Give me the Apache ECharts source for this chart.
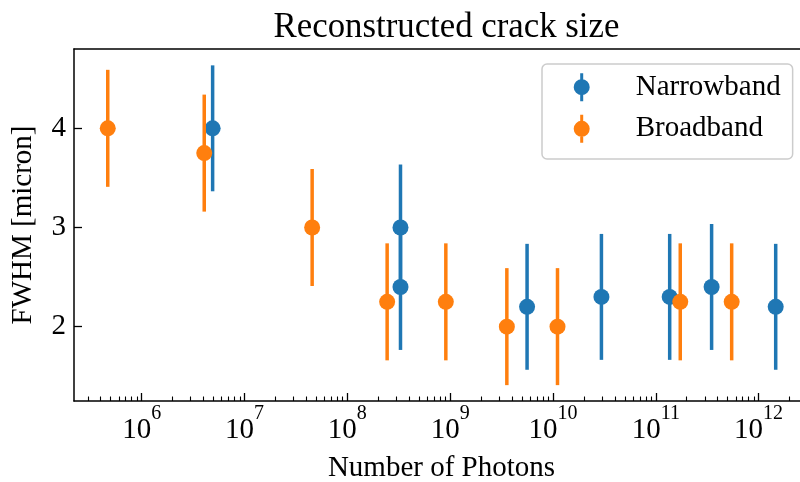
<!DOCTYPE html>
<html>
<head>
<meta charset="utf-8">
<script src="https://cdn.jsdelivr.net/npm/echarts@6/dist/echarts.min.js"></script>
<style>html,body{margin:0;padding:0;background:#fff}#c{width:800px;height:482px}</style>
</head>
<body>
<div id="c"></div>
<script>
// ---- data ----
const narrowX = [4.9e6, 3.29e8, 3.29e8, 5.6e9, 2.96e10, 1.365e11, 3.49e11, 1.466e12];
const narrowY = [4.0, 3.0, 2.4, 2.2, 2.3, 2.3, 2.4, 2.2];
const narrowErr = [0.635, 0.635, 0.635, 0.635, 0.635, 0.635, 0.635, 0.635];
const broadX = [4.68e5, 4.06e6, 4.55e7, 2.44e8, 9.08e8, 3.56e9, 1.107e10, 1.73e11, 5.47e11];
const broadY = [4.0, 3.75, 3.0, 2.25, 2.25, 2.0, 2.0, 2.25, 2.25];
const broadErr = [0.59, 0.59, 0.59, 0.59, 0.59, 0.59, 0.59, 0.59, 0.59];
const xMajorTicks = [1e6, 1e7, 1e8, 1e9, 1e10, 1e11, 1e12];
const yTicks = [2, 3, 4];
const seriesNames = ['Narrowband', 'Broadband'];

const xMinorTicks = [];
for (let k = 5; k <= 12; k++) for (let m = 2; m <= 9; m++) xMinorTicks.push(m * Math.pow(10, k));

const FONT = 'Liberation Serif';
const BLUE = '#1f77b4', ORANGE = '#ff7f0e';
const XMIN = Math.pow(10, 5.342), XMAX = Math.pow(10, 12.49);
const YMIN = 1.25, YMAX = 4.80;
const ICON = 'path://M6.5,0 L9.5,0 L9.5,28 L6.5,28 Z M0,14 A8,8 0 1,1 16,14 A8,8 0 1,1 0,14 Z';
const SPINE = { show: true, lineStyle: { color: '#000', width: 1.5 } };

function errData(xs, ys, es) { return xs.map((x, i) => [x, ys[i], es[i]]); }
function errSeries(xs, ys, es, color, z) {
  return {
    type: 'custom', xAxisIndex: 0, yAxisIndex: 0, z: z, silent: true,
    data: errData(xs, ys, es),
    encode: { x: 0, y: 1 },
    renderItem: function (params, api) {
      const x = api.value(0), y = api.value(1), e = api.value(2);
      const p1 = api.coord([x, y - e]);
      const p2 = api.coord([x, y + e]);
      return { type: 'line', shape: { x1: p1[0], y1: p1[1], x2: p2[0], y2: p2[1] },
        style: { stroke: color, lineWidth: 3.5 } };
    }
  };
}
function ptSeries(name, xs, ys, color, z) {
  return { type: 'scatter', name: name, xAxisIndex: 0, yAxisIndex: 0, z: z,
    data: xs.map((x, i) => [x, ys[i]]), symbol: 'circle', symbolSize: 16,
    itemStyle: { color: color, opacity: 1 }, emphasis: { disabled: true } };
}

const chart = echarts.init(document.getElementById('c'), null, { renderer: 'canvas' });
chart.setOption({
  animation: false,
  backgroundColor: '#fff',
  title: {
    text: 'Reconstructed crack size', left: 441.5, top: 5, textAlign: 'center',
    textStyle: { fontFamily: FONT, fontSize: 34.8, fontWeight: 'normal', color: '#000' }
  },
  grid: { left: 74, width: 735, top: 49, height: 352, outerBoundsMode: 'none', containLabel: false, show: false },
  legend: {
    orient: 'vertical', left: 542, top: 64,
    itemWidth: 16, itemHeight: 28, itemGap: 12.6,
    padding: [8.7, 12, 15.7, 31.7],
    borderColor: '#cccccc', borderWidth: 1.5, borderRadius: 5,
    backgroundColor: 'rgba(255,255,255,0.8)',
    textStyle: { fontFamily: FONT, fontSize: 29, color: '#000', padding: [0, 0, 0, 41] },
    data: seriesNames.map(n => ({ name: n, icon: ICON }))
  },
  xAxis: [{
    type: 'log', logBase: 10, min: XMIN, max: XMAX, position: 'bottom',
    name: 'Number of Photons', nameLocation: 'middle', nameGap: 53,
    nameTextStyle: { fontFamily: FONT, fontSize: 29, color: '#000' },
    axisLine: SPINE,
    splitLine: { show: false },
    axisTick: { show: true, inside: true, length: 8, customValues: xMajorTicks, lineStyle: { color: '#000', width: 1.3 } },
    axisLabel: {
      customValues: xMajorTicks, margin: 0,
      formatter: function (v) { return '{b|10}{s|' + Math.round(Math.log10(v)) + '}'; },
      rich: {
        b: { fontFamily: FONT, fontSize: 29, color: '#000', lineHeight: 44, verticalAlign: 'bottom' },
        s: { fontFamily: FONT, fontSize: 20, color: '#000', lineHeight: 44, verticalAlign: 'top', padding: [3, 0, 0, 0] }
      }
    }
  }, {
    type: 'log', logBase: 10, min: XMIN, max: XMAX, position: 'bottom',
    axisLine: { show: false }, splitLine: { show: false },
    axisLabel: { show: false },
    axisTick: { show: true, inside: true, length: 4.5, customValues: xMinorTicks, lineStyle: { color: '#000', width: 1.1 } }
  }, {
    type: 'log', logBase: 10, min: XMIN, max: XMAX, position: 'top',
    axisLine: SPINE, splitLine: { show: false },
    axisLabel: { show: false }, axisTick: { show: false }
  }],
  yAxis: {
    type: 'value', min: YMIN, max: YMAX,
    name: 'FWHM [micron]', nameLocation: 'middle', nameGap: 36, nameRotate: 90,
    nameTextStyle: { fontFamily: FONT, fontSize: 29, color: '#000' },
    axisLine: SPINE, splitLine: { show: false },
    axisTick: { show: true, inside: true, length: 8, customValues: yTicks, lineStyle: { color: '#000', width: 1.3 } },
    axisLabel: { customValues: yTicks, margin: 8, fontFamily: FONT, fontSize: 29, color: '#000' }
  },
  series: [
    errSeries(narrowX, narrowY, narrowErr, BLUE, 2),
    ptSeries(seriesNames[0], narrowX, narrowY, BLUE, 3),
    errSeries(broadX, broadY, broadErr, ORANGE, 4),
    ptSeries(seriesNames[1], broadX, broadY, ORANGE, 5)
  ]
});
</script>
</body>
</html>
